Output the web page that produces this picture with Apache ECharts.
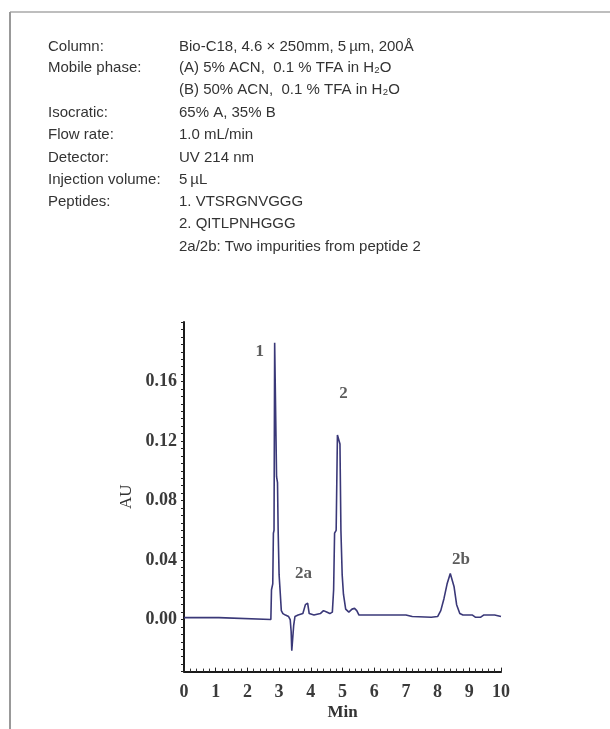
<!DOCTYPE html>
<html>
<head>
<meta charset="utf-8">
<script src="https://cdn.jsdelivr.net/npm/echarts@6/dist/echarts.min.js"></script>
<style>
html,body{margin:0;padding:0;background:#fff;}
#chart{width:610px;height:729px;}
</style>
</head>
<body>
<div id="chart"></div>
<script>
// Condition table
const infoLabels = ["Column:", "Mobile phase:", "", "Isocratic:", "Flow rate:", "Detector:", "Injection volume:", "Peptides:", "", ""];
const infoValues = [
  "Bio-C18, 4.6 \u00d7 250mm, 5\u2009\u00b5m, 200\u00c5",
  "(A) 5% ACN,  0.1 % TFA in H\u2082O",
  "(B) 50% ACN,  0.1 % TFA in H\u2082O",
  "65% A, 35% B",
  "1.0 mL/min",
  "UV 214 nm",
  "5\u2009\u00b5L",
  "1. VTSRGNVGGG",
  "2. QITLPNHGGG",
  "2a/2b: Two impurities from peptide 2"
];

// Chromatogram trace (time in min, absorbance in AU)
const timeMin = [0, 1.1, 1.15, 2.74,
  2.76, 2.80, 2.82, 2.84, 2.86, 2.90, 2.92, 2.95, 2.97, 3.00, 3.03, 3.07, 3.12,
  3.2, 3.3, 3.35, 3.38, 3.40, 3.43, 3.46, 3.5, 3.6, 3.75,
  3.8, 3.83, 3.90, 3.95, 4.1, 4.3, 4.4, 4.5, 4.6, 4.68,
  4.72, 4.75, 4.80, 4.84, 4.88, 4.92, 4.95, 4.99, 5.03, 5.10, 5.2, 5.3, 5.38, 5.45, 5.52,
  6.0, 7.0, 7.2, 7.8,
  8.0, 8.1, 8.2, 8.3, 8.4, 8.45, 8.52, 8.6, 8.7, 8.8, 9.1, 9.2, 9.35, 9.45, 9.8, 10.0];
const absAU = [0.0013, 0.0013, 0.0, 0.0,
  0.02, 0.024, 0.058, 0.06, 0.186, 0.186, 0.096, 0.092, 0.06, 0.03, 0.02, 0.006, 0.004,
  0.003, 0.002, 0.0, -0.008, -0.021, -0.02, -0.004, 0.002, 0.003, 0.004,
  0.004, 0.01, 0.011, 0.004, 0.003, 0.004, 0.006, 0.005, 0.004, 0.005,
  0.02, 0.058, 0.06, 0.124, 0.123, 0.118, 0.06, 0.03, 0.017, 0.007, 0.005, 0.007, 0.0075, 0.006, 0.003,
  0.003, 0.003, 0.002, 0.0015,
  0.002, 0.006, 0.014, 0.024, 0.031, 0.03, 0.022, 0.01, 0.004, 0.003, 0.003, 0.0015, 0.0015, 0.003, 0.003, 0.002];

// Peak annotations
const peakNames = ["1", "2", "2a", "2b"];
const peakX = [2.39, 5.03, 3.77, 8.74];
const peakY = [0.180, 0.152, 0.0306, 0.040];

// Axis ticks
const xTicks = [0, 1, 2, 3, 4, 5, 6, 7, 8, 9, 10];
const yTickLabels = ["0.00", "0.04", "0.08", "0.12", "0.16"];

const chart = echarts.init(document.getElementById('chart'), null, {renderer: 'canvas'});

const graphics = [
  {type: 'line', shape: {x1: 10, y1: 12, x2: 610, y2: 12}, style: {stroke: '#a8a8a8', lineWidth: 1.5}, silent: true},
  {type: 'line', shape: {x1: 10, y1: 12, x2: 10, y2: 729}, style: {stroke: '#999999', lineWidth: 2}, silent: true}
];
const rowY = [47, 68, 90, 113, 135, 158, 180, 202, 224, 247];
infoLabels.forEach((t, i) => {
  if (t) graphics.push({type: 'text', style: {x: 48, y: rowY[i], text: t, fill: '#333', font: '15px "Liberation Sans", Arial, sans-serif', verticalAlign: 'middle'}, silent: true});
});
infoValues.forEach((t, i) => {
  graphics.push({type: 'text', style: {x: 179, y: rowY[i], text: t, fill: '#333', font: '15px "Liberation Sans", Arial, sans-serif', verticalAlign: 'middle'}, silent: true});
});

const serif = '"Liberation Serif", "Times New Roman", serif';

chart.setOption({
  animation: false,
  backgroundColor: '#fff',
  graphic: graphics,
  grid: {left: 184, width: 317, top: 322, height: 349.6, containLabel: false},
  xAxis: {
    type: 'value', min: xTicks[0], max: xTicks[xTicks.length - 1], interval: 1,
    name: 'Min', nameLocation: 'middle', nameGap: 33,
    nameTextStyle: {fontFamily: serif, fontSize: 17, fontWeight: 'bold', color: '#333'},
    axisLine: {show: true, onZero: false, lineStyle: {color: '#1a1a1a', width: 2}},
    axisTick: {show: true, inside: true, length: 4, lineStyle: {color: '#222', width: 1}},
    minorTick: {show: true, splitNumber: 5, length: 3, lineStyle: {color: '#333', width: 1}},
    splitLine: {show: false},
    axisLabel: {margin: 12, fontFamily: serif, fontSize: 18, fontWeight: 'bold', color: '#3a3a3a',
      formatter: v => xTicks.includes(Math.round(v)) ? String(Math.round(v)) : ''}
  },
  yAxis: {
    type: 'value', min: -0.035, max: 0.2, interval: 0.005,
    name: 'AU', nameLocation: 'middle', nameGap: 46, nameRotate: 90,
    nameTextStyle: {fontFamily: serif, fontSize: 17, color: '#333'},
    axisLine: {show: true, onZero: false, lineStyle: {color: '#1a1a1a', width: 2}},
    axisTick: {show: true, inside: false, length: 3, lineStyle: {color: '#222', width: 1}},
    splitLine: {show: false},
    axisLabel: {margin: 7, fontFamily: serif, fontSize: 18, fontWeight: 'bold', color: '#3a3a3a',
      formatter: function (v) {
        const k = v / 0.04;
        const r = Math.round(k);
        if (Math.abs(k - r) < 1e-6 && r >= 0 && r < yTickLabels.length) return yTickLabels[r];
        return '';
      }}
  },
  series: [
    {
      type: 'line', data: timeMin.map((t, i) => [t, absAU[i]]),
      showSymbol: false, symbol: 'none', smooth: false,
      lineStyle: {color: '#3a3878', width: 1.6},
      clip: true
    },
    {
      type: 'scatter', data: peakX.map((x, i) => [x, peakY[i], peakNames[i]]),
      symbolSize: 0,
      label: {show: true, position: 'inside', formatter: p => p.value[2],
        fontFamily: serif, fontSize: 17, fontWeight: 'bold', color: '#333'}
    }
  ]
});
</script>
</body>
</html>
